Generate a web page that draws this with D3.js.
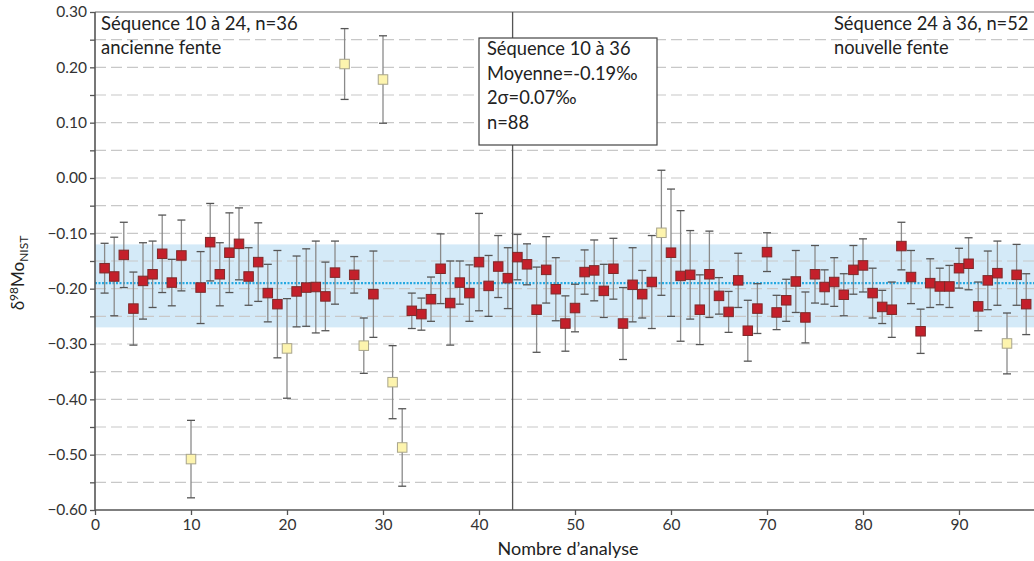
<!DOCTYPE html>
<html><head><meta charset="utf-8">
<script src="https://cdn.jsdelivr.net/npm/d3@7"></script>
<style>body{margin:0;background:#fff}svg{display:block;font-family:Lato,"Open Sans",sans-serif}</style>
</head><body><svg id="c" width="1034" height="561"></svg>
<script>
const analysis = d3.range(1, 98);
const delta98Mo = [-0.163,-0.178,-0.139,-0.236,-0.186,-0.174,-0.137,-0.189,-0.140,-0.508,
 -0.198,-0.116,-0.174,-0.135,-0.119,-0.178,-0.152,-0.208,-0.228,-0.308,
 -0.205,-0.198,-0.197,-0.214,-0.171,0.206,-0.175,-0.303,-0.210,0.178,
 -0.369,-0.487,-0.240,-0.246,-0.219,-0.164,-0.226,-0.189,-0.208,-0.152,
 -0.195,-0.160,-0.181,-0.143,-0.156,-0.238,-0.166,-0.201,-0.263,-0.235,
 -0.170,-0.167,-0.204,-0.164,-0.263,-0.193,-0.210,-0.188,-0.099,-0.135,
 -0.177,-0.175,-0.238,-0.174,-0.213,-0.242,-0.185,-0.276,-0.236,-0.134,
 -0.243,-0.221,-0.187,-0.252,-0.174,-0.197,-0.188,-0.211,-0.166,-0.158,
 -0.208,-0.233,-0.238,-0.123,-0.179,-0.277,-0.190,-0.196,-0.196,-0.163,
 -0.155,-0.232,-0.185,-0.172,-0.299,-0.175,-0.228];
const twoSigma = [0.045,0.071,0.059,0.066,0.069,0.060,0.070,0.042,0.064,0.070,
 0.065,0.070,0.057,0.072,0.065,0.052,0.071,0.052,0.097,0.090,
 0.064,0.070,0.083,0.062,0.057,0.064,0.033,0.050,0.078,0.079,
 0.066,0.070,0.032,0.029,0.040,0.063,0.076,0.039,0.051,0.088,
 0.055,0.056,0.055,0.041,0.037,0.077,0.060,0.057,0.050,0.043,
 0.040,0.055,0.048,0.055,0.065,0.067,0.043,0.084,0.113,0.115,
 0.118,0.080,0.063,0.078,0.033,0.037,0.049,0.055,0.045,0.035,
 0.031,0.038,0.056,0.046,0.052,0.031,0.044,0.038,0.044,0.048,
 0.045,0.030,0.050,0.043,0.048,0.040,0.044,0.033,0.038,0.036,
 0.047,0.044,0.053,0.058,0.055,0.055,0.055];
const rejected = [10,20,26,28,30,31,32,59,95];
const meanValue = -0.19;
const bandLow = -0.27, bandHigh = -0.12;
const splitAt = 43.5;
const yTicks = d3.range(-0.60, 0.301, 0.05).map(v => Math.round(v*100)/100);
const xTicks = [0,10,20,30,40,50,60,70,80,90];
const boxLines = ["Séquence 10 à 36","Moyenne=-0.19‰","2σ=0.07‰","n=88"];

const svg = d3.select("#c");
const x = d3.scaleLinear().domain([0,100]).range([95,1055]);
const y = d3.scaleLinear().domain([-0.6,0.3]).range([510,12]);
const data = analysis.map((n,i)=>({n, v:delta98Mo[i], e:twoSigma[i], rej:rejected.includes(n)}));

svg.append("rect").attr("x",x(0)).attr("y",y(bandHigh)).attr("width",1034-x(0)).attr("height",y(bandLow)-y(bandHigh)).attr("fill","#d4eaf8");
svg.append("g").selectAll("line").data(yTicks.filter(t=>t>-0.6 && t<0.3)).join("line")
  .attr("x1",x(0)).attr("x2",1034).attr("y1",d=>y(d)).attr("y2",d=>y(d))
  .attr("stroke","#c8c8c8").attr("stroke-width",1.2).attr("stroke-dasharray","11,5");
svg.append("line").attr("x1",x(0)).attr("x2",1034).attr("y1",y(0.3)).attr("y2",y(0.3)).attr("stroke","#666").attr("stroke-width",1.2);
svg.append("line").attr("x1",x(0)).attr("x2",1034).attr("y1",y(meanValue)).attr("y2",y(meanValue))
  .attr("stroke","#27a9e1").attr("stroke-width",2.2).attr("stroke-dasharray","2,1.5");
svg.append("line").attr("x1",x(splitAt)).attr("x2",x(splitAt)).attr("y1",y(0.3)).attr("y2",y(-0.6)).attr("stroke","#555").attr("stroke-width",1.3);

const ya = svg.append("g").attr("transform",`translate(${x(0)},0)`)
  .call(d3.axisLeft(y).tickValues(yTicks).tickSize(5).tickPadding(3)
    .tickFormat(d => (Math.round(d*100)%10===0) ? d3.format(".2f")(d) : ""));
const xa = svg.append("g").attr("transform",`translate(0,${y(-0.6)})`)
  .call(d3.axisBottom(x).tickValues(xTicks).tickSize(5).tickPadding(4).tickFormat(d3.format("d")));
[ya,xa].forEach(g=>{
  g.select(".domain").attr("stroke","#555").attr("stroke-width",1.6);
  g.selectAll(".tick line").attr("stroke","#555").attr("stroke-width",1.3);
  g.selectAll("text").attr("fill","#333").style("font-size","15.5px").style("font-family","Lato,sans-serif");
});
xa.select(".domain").attr("d",`M${x(0)},0H1034`);
ya.select(".domain").attr("d",`M0,${y(0.3)}V${y(-0.6)}`);

const eb = svg.append("g").selectAll("g").data(data).join("g").attr("stroke","#8a8a8a").attr("stroke-width",1.3);
eb.append("line").attr("x1",d=>x(d.n)).attr("x2",d=>x(d.n)).attr("y1",d=>y(d.v+d.e)).attr("y2",d=>y(d.v-d.e));
eb.append("line").attr("x1",d=>x(d.n)-4).attr("x2",d=>x(d.n)+4).attr("y1",d=>y(d.v+d.e)).attr("y2",d=>y(d.v+d.e)).attr("stroke","#555");
eb.append("line").attr("x1",d=>x(d.n)-4).attr("x2",d=>x(d.n)+4).attr("y1",d=>y(d.v-d.e)).attr("y2",d=>y(d.v-d.e)).attr("stroke","#555");
const s = 9.5;
svg.append("g").selectAll("rect").data(data).join("rect")
  .attr("x",d=>x(d.n)-s/2).attr("y",d=>y(d.v)-s/2).attr("width",s).attr("height",s)
  .attr("fill",d=>d.rej?"#fdf4ae":"#c4202b").attr("stroke",d=>d.rej?"#a8a48c":"#7d2a2a").attr("stroke-width",1);

const T = (t,xx,yy,size,anchor)=>svg.append("text").attr("x",xx).attr("y",yy).attr("fill","#222")
  .style("font-size",size+"px").attr("text-anchor",anchor||"start").text(t);
T("Séquence 10 à 24, n=36",101,30,18.5);
T("ancienne fente",101,54,18.5);
T("Séquence 24 à 36, n=52",834,30,18.3);
T("nouvelle fente",834,54,18.3);
svg.append("rect").attr("x",479).attr("y",38).attr("width",178).attr("height",107).attr("fill","#fff").attr("stroke","#444").attr("stroke-width",1.2);
boxLines.forEach((l,i)=>T(l,487,55+i*24.5,18.3));
T("Nombre d’analyse",568,555,18,"middle");
const yl = svg.append("text").attr("transform","translate(24,273) rotate(-90)").attr("text-anchor","middle")
  .attr("fill","#222").style("font-size","17px");
yl.append("tspan").text("δ");
yl.append("tspan").attr("dy",-6).style("font-size","12px").text("98");
yl.append("tspan").attr("dy",6).text("Mo");
yl.append("tspan").attr("dy",4).style("font-size","12px").text("NIST");
</script></body></html>
